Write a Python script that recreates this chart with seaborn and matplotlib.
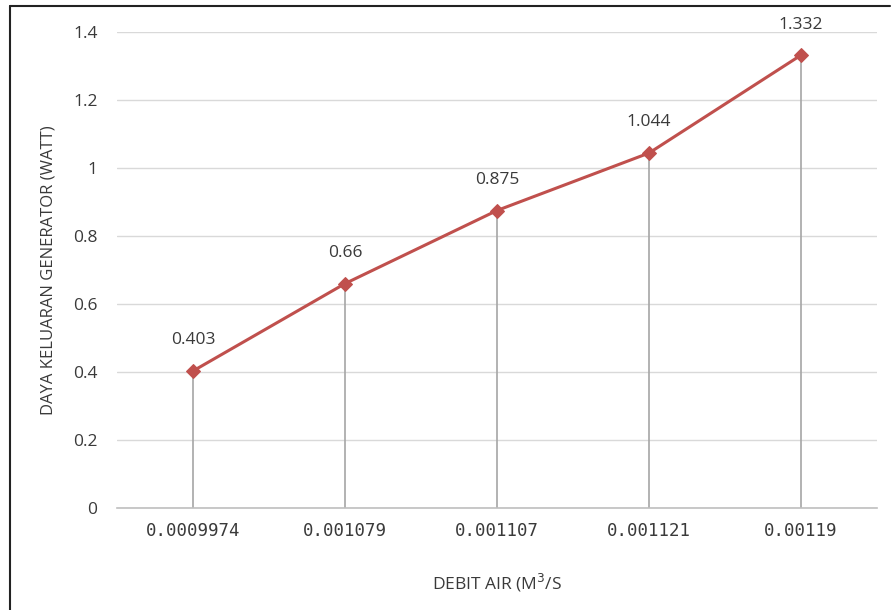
import matplotlib
matplotlib.use("Agg")
import matplotlib.pyplot as plt
import seaborn as sns
import pandas as pd
from matplotlib.lines import Line2D

categories = ["0.0009974", "0.001079", "0.001107", "0.001121", "0.00119"]
values = [0.403, 0.66, 0.875, 1.044, 1.332]
value_labels = ["0.403", "0.66", "0.875", "1.044", "1.332"]
yticks = [0, 0.2, 0.4, 0.6, 0.8, 1.0, 1.2, 1.4]
ytick_labels = ["0", "0.2", "0.4", "0.6", "0.8", "1", "1.2", "1.4"]

df = pd.DataFrame({"debit": categories, "daya": values})

sns.set_style("white")
plt.rcParams["font.family"] = ["Open Sans", "DejaVu Sans"]

fig = plt.figure(figsize=(8.92, 6.10), dpi=100)
ax = fig.add_axes([117/892, 1-508/610, 760/892, 476/610])

red = "#C0504D"
txt = "#3A3A3A"
pos = list(range(len(categories)))
ax.vlines(pos, 0, values, color="#A6A6A6", lw=1.2, zorder=1)
sns.lineplot(data=df, x="debit", y="daya", ax=ax, color=red, lw=2.2,
             marker="D", markersize=7, markeredgecolor=red, sort=False, zorder=3)

for p, v, lab in zip(pos, values, value_labels):
    ax.annotate(lab, (p, v), xytext=(0, 22), textcoords="offset points",
                ha="center", va="center", fontsize=12.5, color=txt)

ax.set_xlim(-0.5, len(categories) - 0.5)
ax.set_ylim(0, 1.4)
ax.set_yticks(yticks)
ax.set_yticklabels(ytick_labels, fontsize=12.5, color=txt)
ax.set_xticks(pos)
ax.set_xticklabels(categories, fontsize=12.5, color=txt, family="DejaVu Sans Mono")
ax.tick_params(axis="x", length=0, pad=10)
ax.tick_params(axis="y", length=0, pad=14)
ax.grid(axis="y", color="#D9D9D9", lw=1)
ax.set_axisbelow(True)
for s in ["top", "right", "left"]:
    ax.spines[s].set_visible(False)
ax.spines["bottom"].set_color("#BFBFBF")
ax.spines["bottom"].set_linewidth(1.2)

ax.set_xlabel("DEBIT AIR (M$^{3}$/S", fontsize=12.5, color=txt, labelpad=23)
ax.set_ylabel("DAYA KELUARAN GENERATOR (WATT)", fontsize=12, color=txt, labelpad=12)

fig.add_artist(Line2D([10/892, 10/892], [0, 1-6/610], transform=fig.transFigure, color="#222222", lw=1.5))
fig.add_artist(Line2D([10/892, 890/892], [1-6/610, 1-6/610], transform=fig.transFigure, color="#222222", lw=1.5))

fig.savefig("out.png", dpi=100)
